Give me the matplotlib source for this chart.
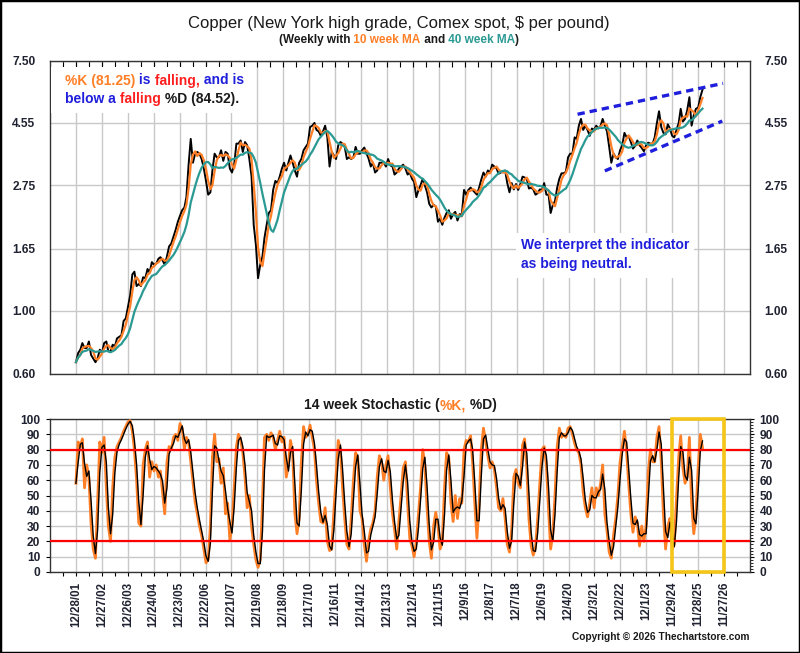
import matplotlib
matplotlib.use("Agg")
import matplotlib.pyplot as plt
import matplotlib.dates as mdates
from matplotlib.ticker import FixedLocator, FixedFormatter, NullLocator, MultipleLocator
from matplotlib.patches import Rectangle
import pandas as pd
from datetime import datetime, timedelta

plt.rcParams['font.family'] = ['Liberation Sans', 'DejaVu Sans']
plt.rcParams['font.weight'] = 'bold'

# ---------------- data (monthly readings, first = 12/28/01) ----------------
start_date = "2001-12-28"
price = [
    0.66,
    0.71, 0.73, 0.77, 0.74, 0.74, 0.78, 0.70, 0.68, 0.66, 0.68, 0.73, 0.71,   # 2002
    0.77, 0.78, 0.72, 0.72, 0.76, 0.75, 0.80, 0.81, 0.82, 0.92, 0.94, 1.03,   # 2003
    1.13, 1.34, 1.37, 1.22, 1.24, 1.22, 1.31, 1.30, 1.40, 1.36, 1.48, 1.45,   # 2004
    1.46, 1.52, 1.54, 1.50, 1.45, 1.55, 1.68, 1.72, 1.82, 1.92, 2.05, 2.15,   # 2005
    2.25, 2.30, 2.50, 3.25, 4.00, 3.30, 3.55, 3.60, 3.55, 3.40, 3.15, 2.85,   # 2006
    2.55, 2.60, 3.10, 3.55, 3.45, 3.45, 3.65, 3.35, 3.60, 3.55, 3.15, 3.05,   # 2007
    3.25, 3.85, 3.85, 3.95, 3.60, 3.90, 3.80, 3.40, 2.95, 2.00, 1.70, 1.30,   # 2008
    1.45, 1.55, 1.80, 2.00, 2.20, 2.25, 2.65, 2.85, 2.80, 2.95, 3.15, 3.30,   # 2009
    3.10, 3.30, 3.50, 3.30, 3.10, 2.95, 3.30, 3.40, 3.65, 3.75, 3.85, 4.40,   # 2010
    4.45, 4.55, 4.30, 4.25, 4.10, 4.25, 4.45, 4.05, 3.20, 3.60, 3.50, 3.40,   # 2011
    3.80, 3.90, 3.85, 3.75, 3.40, 3.45, 3.40, 3.45, 3.75, 3.55, 3.55, 3.65,   # 2012
    3.73, 3.55, 3.42, 3.20, 3.30, 3.05, 3.10, 3.30, 3.30, 3.30, 3.20, 3.40,   # 2013
    3.23, 3.20, 3.00, 3.05, 3.15, 3.20, 3.25, 3.15, 3.00, 3.05, 2.90, 2.83,   # 2014
    2.50, 2.65, 2.75, 2.90, 2.75, 2.60, 2.37, 2.30, 2.35, 2.32, 2.05, 2.10,   # 2015
    2.00, 2.12, 2.20, 2.25, 2.10, 2.18, 2.22, 2.07, 2.18, 2.17, 2.65, 2.55,   # 2016
    2.65, 2.70, 2.65, 2.60, 2.55, 2.70, 2.88, 3.05, 2.95, 3.10, 3.05, 3.25,   # 2017
    3.20, 3.15, 3.02, 3.05, 3.07, 3.10, 2.80, 2.60, 2.80, 2.66, 2.78, 2.65,   # 2018
    2.78, 2.95, 2.93, 2.90, 2.68, 2.70, 2.66, 2.55, 2.58, 2.66, 2.65, 2.80,   # 2019
    2.55, 2.55, 2.20, 2.35, 2.42, 2.70, 2.90, 3.03, 3.03, 3.07, 3.45, 3.55,   # 2020
    3.55, 4.05, 4.00, 4.45, 4.70, 4.30, 4.45, 4.30, 4.10, 4.35, 4.30, 4.45,   # 2021
    4.35, 4.45, 4.70, 4.45, 4.25, 3.75, 3.30, 3.55, 3.45, 3.40, 3.65, 3.80,   # 2022
    4.20, 4.05, 4.10, 3.90, 3.70, 3.78, 3.95, 3.80, 3.72, 3.62, 3.80, 3.88,   # 2023
    3.85, 3.85, 4.05, 4.55, 5.00, 4.40, 4.20, 4.15, 4.50, 4.35, 4.10, 4.05,   # 2024
    4.30, 4.55, 5.10, 4.60, 4.70, 5.05, 5.60, 4.45, 4.85, 5.10, 5.15, 5.60,   # 2025
    5.95,                                                                     # 2026
]
pct_k = [
    58,
    85, 82, 87, 55, 70, 62, 32, 15, 9, 45, 85, 78,      # 2002
    88, 55, 30, 20, 55, 75, 82, 85, 88, 92, 95, 98,     # 2003
    99, 92, 80, 60, 32, 30, 70, 80, 85, 62, 72, 66,     # 2004
    70, 62, 66, 52, 38, 72, 82, 80, 88, 90, 86, 97,     # 2005
    94, 80, 88, 85, 72, 58, 46, 38, 30, 24, 15, 6,      # 2006
    8, 30, 75, 90, 72, 74, 58, 68, 38, 45, 21, 30,      # 2007
    55, 82, 90, 86, 78, 62, 42, 50, 30, 18, 8, 3,       # 2008
    8, 45, 88, 90, 86, 91, 88, 80, 86, 92, 85, 88,      # 2009
    62, 70, 86, 78, 39, 25, 35, 72, 95, 88, 90, 96,     # 2010
    88, 80, 60, 45, 33, 32, 42, 20, 14, 15, 40, 62,     # 2011
    86, 80, 55, 35, 18, 15, 35, 60, 78, 75, 40, 35,     # 2012
    18, 7, 20, 28, 32, 40, 62, 76, 72, 60, 70, 76,      # 2013
    55, 38, 28, 15, 33, 50, 68, 72, 45, 22, 17, 10,     # 2014
    20, 38, 55, 80, 70, 42, 20, 9, 30, 39, 30, 15,      # 2015
    20, 55, 78, 75, 45, 33, 50, 35, 48, 45, 80, 86,     # 2016
    85, 89, 72, 45, 22, 45, 80, 94, 85, 76, 68, 72,     # 2017
    67, 55, 42, 40, 48, 35, 18, 13, 28, 62, 67, 58,     # 2018
    55, 83, 87, 68, 35, 17, 11, 16, 35, 58, 80, 82,     # 2019
    70, 40, 15, 25, 50, 82, 94, 88, 90, 88, 94, 95,     # 2020
    90, 84, 80, 78, 70, 52, 42, 36, 45, 55, 42, 55,     # 2021
    50, 58, 70, 38, 27, 13, 9, 24, 35, 50, 72, 82,      # 2022
    92, 78, 58, 38, 26, 36, 32, 17, 30, 20, 30, 65,     # 2023
    80, 72, 72, 88, 95, 72, 38, 15, 30, 35, 15, 18,     # 2024
    48, 75, 89, 68, 58, 62, 88, 45, 25, 38, 68, 90,     # 2025
    81.25,                                              # 2026
]
tick_labels = ["12/28/01", "12/27/02", "12/26/03", "12/24/04", "12/23/05", "12/22/06",
               "12/21/07", "12/19/08", "12/18/09", "12/17/10", "12/16/11", "12/14/12",
               "12/13/13", "12/12/14", "12/11/15", "12/9/16", "12/8/17", "12/7/18",
               "12/6/19", "12/4/20", "12/3/21", "12/2/22", "12/1/23", "11/29/24",
               "11/28/25", "11/27/26"]
price_ticks = [0.60, 1.00, 1.65, 2.75, 4.55, 7.50]
stoch_ticks = list(range(0, 101, 10))
overbought, oversold = 80, 20
channel_upper_dates = ["2021-04-10", "2026-11-12"]
channel_upper_vals = [4.88, 6.26]
channel_lower_dates = ["2022-04-28", "2026-11-02"]
channel_lower_vals = [3.09, 4.62]
focus_box = ["11/29/24", "11/27/26"]

# ---------------- styles ----------------
ORANGE = '#FF7F27'
TEAL = '#2A9A93'
BLUE = '#1E1EDC'
RED = '#FF1E1E'
DARK = '#1A1A1A'
GOLD = '#F5C518'
GRID = '#C8C8C8'
LBL = '#1F2230'

dates = pd.date_range(start_date, periods=len(price), freq=pd.DateOffset(months=1))
s_price = pd.Series(price, index=dates)
ma10 = s_price.rolling("70D").mean()
ma40 = s_price.rolling("280D").mean()
s_k = pd.Series(pct_k, index=dates)
s_d = s_k.rolling("45D").mean()

tick_dates = [datetime.strptime(t, "%m/%d/%y") for t in tick_labels]
minor_dates = [tick_dates[0] - timedelta(days=182)] + [t + timedelta(days=182) for t in tick_dates]
xlim = (tick_dates[0] - timedelta(days=364), tick_dates[-1] + timedelta(days=364))
major_x = mdates.date2num(tick_dates)
minor_x = mdates.date2num(minor_dates)

W, H = 800, 653
fig = plt.figure(figsize=(W / 100, H / 100), dpi=100)
fig.patch.set_facecolor('white')

def axrect(l, t, r, b):
    return [l / W, 1 - b / H, (r - l) / W, (b - t) / H]

# ---------------- price panel ----------------
ax1 = fig.add_axes(axrect(50, 61, 750, 374))
ax1.plot(dates, s_price.values, color='black', lw=1.4, zorder=3)
ax1.plot(dates, ma10.values, color=ORANGE, lw=1.6, zorder=4)
ax1.plot(dates, ma40.values, color=TEAL, lw=1.6, zorder=5)
ax1.plot(pd.to_datetime(channel_upper_dates), channel_upper_vals, color=BLUE, lw=2.4,
         ls=(0, (2.2, 1.5)), zorder=6, dash_capstyle='butt')
ax1.plot(pd.to_datetime(channel_lower_dates), channel_lower_vals, color=BLUE, lw=2.4,
         ls=(0, (2.2, 1.5)), zorder=6, dash_capstyle='butt')
ax1.set_yscale('log')
ax1.set_ylim(price_ticks[0], price_ticks[-1])
ax1.yaxis.set_major_locator(FixedLocator(price_ticks))
ax1.yaxis.set_major_formatter(FixedFormatter([f"{v:.2f}" for v in price_ticks]))
ax1.yaxis.set_minor_locator(NullLocator())
ax1.set_xlim(xlim)
ax1.xaxis.set_major_locator(FixedLocator(major_x))
ax1.xaxis.set_minor_locator(FixedLocator(minor_x))
ax1.tick_params(axis='x', which='both', top=True, bottom=False, direction='in',
                length=4, width=0.8, labelbottom=False)
ax1.tick_params(axis='y', which='both', left=False, right=False, labelleft=True,
                labelright=True, labelsize=8.6, labelcolor=LBL)
ax1.tick_params(axis='y', which='major', pad=7)
ax1.grid(True, which='major', color=GRID, lw=1.0, zorder=0)
ax1.set_axisbelow(True)
for sp in ax1.spines.values():
    sp.set_color('#333333')
    sp.set_linewidth(1.0)

# ---------------- stochastic panel ----------------
ax2 = fig.add_axes(axrect(50, 419, 750, 572))
ax2.plot(dates, s_k.values, color=ORANGE, lw=2.0, zorder=3)
ax2.plot(dates, s_d.values, color='black', lw=1.0, zorder=4)
ax2.axhline(overbought, color='#FF0000', lw=1.6, zorder=5)
ax2.axhline(oversold, color='#FF0000', lw=1.6, zorder=5)
ax2.set_ylim(stoch_ticks[0], stoch_ticks[-1])
ax2.yaxis.set_major_locator(FixedLocator(stoch_ticks))
ax2.yaxis.set_minor_locator(MultipleLocator(2))
ax2.set_xlim(xlim)
ax2.xaxis.set_major_locator(FixedLocator(major_x))
ax2.xaxis.set_major_formatter(FixedFormatter(tick_labels))
ax2.xaxis.set_minor_locator(FixedLocator(minor_x))
ax2.tick_params(axis='x', which='both', bottom=True, direction='out', length=3,
                width=0.8, labelsize=8.3, labelcolor=LBL, pad=4, labelrotation=90)
ax2.tick_params(axis='y', which='major', left=True, right=True, direction='out',
                length=3, width=0.8, labelleft=True, labelright=True,
                labelsize=8.6, labelcolor=LBL, pad=4)
ax2.tick_params(axis='y', which='minor', left=False, right=True, direction='out',
                length=2, width=0.6)
ax2.grid(True, which='major', color=GRID, lw=1.0, zorder=0)
ax2.set_axisbelow(True)
for sp in ax2.spines.values():
    sp.set_color('#333333')
    sp.set_linewidth(1.0)
fb = [datetime.strptime(t, "%m/%d/%y") for t in focus_box]
x0, x1 = mdates.date2num(fb[0]), mdates.date2num(fb[1])
ax2.add_patch(Rectangle((x0, stoch_ticks[0]), x1 - x0, stoch_ticks[-1] - stoch_ticks[0],
                        fill=False, edgecolor=GOLD, lw=2.6, zorder=7, clip_on=False))

# ---------------- overlay for titles and notes (pixel coords) ----------------
ov = fig.add_axes([0, 0, 1, 1], zorder=20)
ov.set_xlim(0, W)
ov.set_ylim(H, 0)
ov.axis('off')
ov.patch.set_visible(False)

ov.add_patch(Rectangle((51, 67), 204, 46, facecolor='white', edgecolor='none'))
ov.add_patch(Rectangle((516, 233), 178, 45, facecolor='white', edgecolor='none'))

def rainbow(x, y, parts, size, center=False):
    texts = [ov.text(x, y, s, color=c, fontsize=size, fontweight='bold',
                     va='baseline', ha='left') for s, c in parts]
    fig.canvas.draw()
    r = fig.canvas.get_renderer()
    widths = [t.get_window_extent(r).width for t in texts]
    cx = x - sum(widths) / 2 if center else x
    for t, w in zip(texts, widths):
        t.set_x(cx)
        cx += w
    return texts

ov.text(399, 28, "Copper (New York high grade, Comex spot, \\$ per pound)", ha='center',
        va='baseline', fontsize=12, fontweight='normal', color=DARK)
rainbow(399, 43, [("(Weekly with", DARK), (" 10 week MA", ORANGE), (" and", DARK),
                  (" 40 week MA", TEAL), (")", DARK)], 8.5, center=True)
rainbow(400, 409, [("14 week Stochastic (", DARK), ("%K,", ORANGE), (" %D)", DARK)],
        10, center=True)
rainbow(65, 84.5, [("%K (81.25)", ORANGE), (" is", BLUE), (" falling,", RED),
                   (" and is", BLUE)], 10)
rainbow(65, 103, [("below a", BLUE), (" falling", RED), (" %D (84.52).", DARK)], 10)
ov.text(521, 249, "We interpret the indicator", color=BLUE, fontsize=10,
        fontweight='bold', va='baseline', ha='left')
ov.text(521, 268, "as being neutral.", color=BLUE, fontsize=10,
        fontweight='bold', va='baseline', ha='left')
ov.text(750, 640.5, "Copyright \u00a9 2026 Thechartstore.com", color=DARK, fontsize=7.3,
        fontweight='bold', va='baseline', ha='right')

fig.patches.append(Rectangle((0, 0), 1, 1, transform=fig.transFigure, fill=False,
                             edgecolor='black', lw=2.5))

fig.savefig("out.png", dpi=100, facecolor='white')
